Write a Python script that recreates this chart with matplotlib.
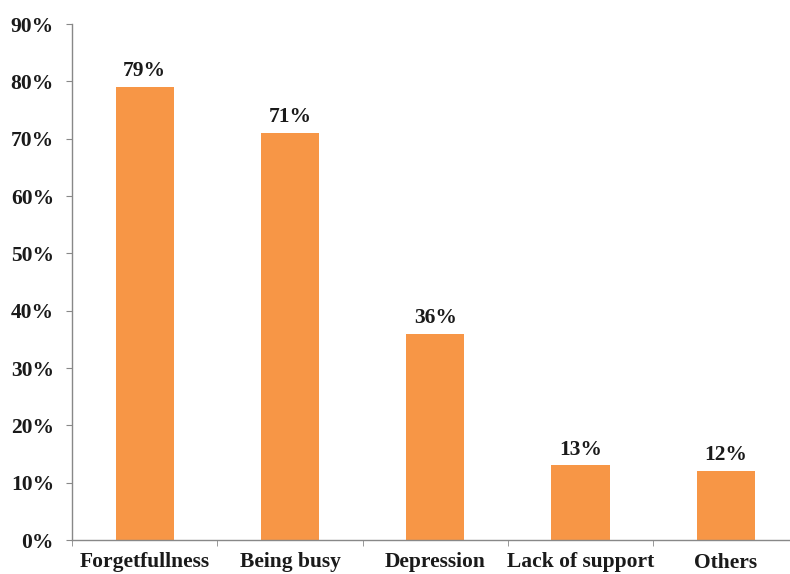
import matplotlib
matplotlib.use("Agg")
import matplotlib.pyplot as plt
from matplotlib.ticker import FixedLocator, PercentFormatter

categories = ["Forgetfullness", "Being busy", "Depression", "Lack of support", "Others"]
values = [79, 71, 36, 13, 12]
yticks = [0, 10, 20, 30, 40, 50, 60, 70, 80, 90]

plt.rcParams['font.family'] = ['Liberation Serif', 'DejaVu Serif']

fig = plt.figure(figsize=(7.9, 5.74), dpi=100)
ax = fig.add_axes([72/790, 34/574, 726.5/790, 516/574])

x = list(range(len(categories)))
ax.bar(x, values, width=0.4, color="#F79646", zorder=2)
for xi, v in zip(x, values):
    ax.text(xi, v + 1.0, f"{v}%", ha="center", va="bottom",
            fontsize=15.5, fontweight="bold", color="#1a1a1a")

ax.set_xlim(-0.5, len(categories) - 0.5)
ax.set_ylim(0, 90)
ax.set_yticks(yticks)
ax.yaxis.set_major_formatter(PercentFormatter(decimals=0))
ax.set_xticks(x)
ax.set_xticklabels(categories)
ax.xaxis.set_minor_locator(FixedLocator([i - 0.5 for i in range(len(categories) + 1)]))
ax.tick_params(axis="x", which="major", length=0, pad=9)
ax.tick_params(axis="x", which="minor", length=4, color="#888888", direction="out")
ax.tick_params(axis="y", length=4, color="#888888", direction="out", pad=9)

for lab in ax.get_xticklabels() + ax.get_yticklabels():
    lab.set_fontsize(15.5)
    lab.set_fontweight("bold")
    lab.set_color("#1a1a1a")

for s in ["top", "right"]:
    ax.spines[s].set_visible(False)
for s in ["left", "bottom"]:
    ax.spines[s].set_color("#888888")
    ax.spines[s].set_linewidth(1.0)

fig.savefig("out.png", dpi=100)
